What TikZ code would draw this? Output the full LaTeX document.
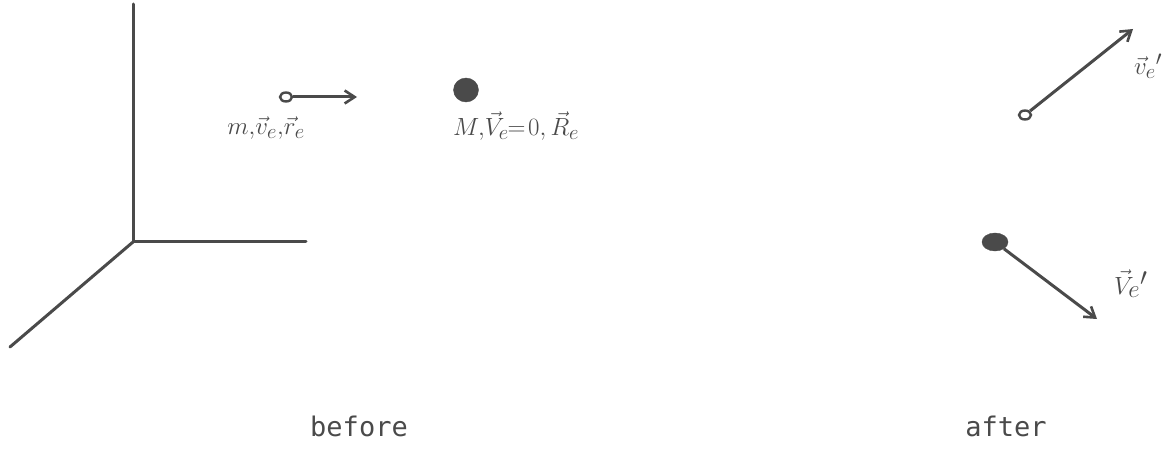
\documentclass[tikz,border=0pt]{standalone}
\usepackage{fontspec}
\setmonofont{DejaVu Sans Mono}
\usetikzlibrary{arrows.meta,shapes.geometric}
\definecolor{ink}{HTML}{4A4A4A}
\tikzset{
  axis/.style={draw=ink,line width=3pt,line cap=round},
  vec/.style={draw=ink,line width=3pt,-{Straight Barb[length=10pt,width=13pt,line width=2.6pt]},shorten <=0pt},
  light/.style={ellipse,draw=ink,line width=2.4pt,fill=white,minimum width=12pt,minimum height=9pt,inner sep=0pt},
  heavy/.style={ellipse,fill=ink,draw=ink,inner sep=0pt},
  hand/.style={text=ink,font=\fontsize{29}{32}\selectfont,inner sep=0pt},
  captext/.style={text=ink,font=\ttfamily\fontsize{27}{30}\selectfont,inner sep=0pt}
}
\begin{document}
\begin{tikzpicture}[x=1pt,y=-1pt]
\useasboundingbox (0,0) rectangle (1166,454);
% axes
\coordinate (O) at (133,242);
\coordinate (Z) at (133,4);
\coordinate (X) at (306,242);
\coordinate (Y) at (10,347);
\draw[axis] (Z) -- (O) -- (X);
\draw[axis] (O) -- (Y);
% before
\node[light] (m1) at (286,97) {};
\coordinate (m1e) at (357,97);
\draw[vec] (m1) -- (m1e);
\node[hand] (lm) at (266,128) {$m,\!\vec v_e,\!\vec r_e$};
\node[heavy,minimum width=25pt,minimum height=24pt] (M1) at (466,90) {};
\node[hand,anchor=west] (lM) at (453,126) {$M,\!\vec V_e\!\!=\!0,\vec R_e$};
% after
\node[light] (m2) at (1025,115) {};
\coordinate (m2e) at (1133,29);
\draw[vec] (m2) -- (m2e);
\node[hand,anchor=west] (lm2) at (1134,66) {$\vec v_e{}'$};
\node[heavy,minimum width=26pt,minimum height=18pt] (M2) at (995,242) {};
\coordinate (M2e) at (1097,319);
\draw[vec] (M2) -- (M2e);
\node[hand,anchor=west,font=\fontsize{38}{40}\selectfont] (lM2) at (1114,284) {$\vec V_e{}'$};
% captions
\node[captext] (cb) at (359,426) {before};
\node[captext] (ca) at (1006,426) {after};
\end{tikzpicture}
\end{document}
